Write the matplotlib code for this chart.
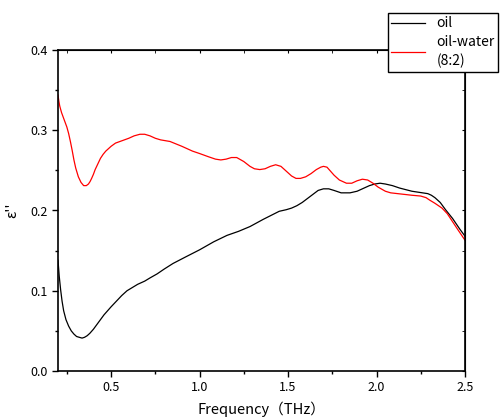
import numpy as np
import matplotlib.pyplot as plt
from matplotlib.ticker import MultipleLocator

plt.rcParams['font.family'] = ['Noto Sans CJK JP', 'DejaVu Sans']

# oil
freq_oil = [0.2, 0.207, 0.215, 0.223, 0.232, 0.245, 0.26, 0.275, 0.29, 0.305, 0.32, 0.336, 0.35,
            0.365, 0.38, 0.4, 0.42, 0.44, 0.46, 0.48, 0.5, 0.53, 0.56, 0.59, 0.62, 0.65, 0.69,
            0.72, 0.76, 0.8, 0.85, 0.92, 1.0, 1.08, 1.155, 1.22, 1.285, 1.36, 1.45, 1.49, 1.52,
            1.55, 1.58, 1.61, 1.64, 1.67, 1.70, 1.73, 1.76, 1.80, 1.85, 1.89, 1.92, 1.96, 1.99,
            2.02, 2.05, 2.09, 2.13, 2.2, 2.26, 2.29, 2.31, 2.33, 2.36, 2.39, 2.43, 2.47, 2.5]
eps_oil = [0.138, 0.118, 0.101, 0.087, 0.075, 0.064, 0.056, 0.050, 0.046, 0.043, 0.042, 0.041,
           0.042, 0.044, 0.047, 0.052, 0.058, 0.064, 0.070, 0.075, 0.080, 0.087, 0.094, 0.100,
           0.104, 0.108, 0.112, 0.116, 0.121, 0.127, 0.134, 0.142, 0.151, 0.161, 0.169, 0.174,
           0.180, 0.189, 0.199, 0.201, 0.203, 0.206, 0.210, 0.215, 0.220, 0.225, 0.227, 0.227,
           0.225, 0.222, 0.222, 0.224, 0.227, 0.231, 0.233, 0.234, 0.233, 0.231, 0.228, 0.224,
           0.222, 0.221, 0.219, 0.216, 0.210, 0.201, 0.190, 0.177, 0.168]

# oil-water (8:2)
freq_ow = [0.2, 0.205, 0.21, 0.22, 0.23, 0.24, 0.25, 0.26, 0.27, 0.28, 0.29, 0.3, 0.315, 0.33,
           0.345, 0.36, 0.372, 0.381, 0.39, 0.4, 0.41, 0.425, 0.44, 0.455, 0.47, 0.485, 0.5,
           0.525, 0.55, 0.575, 0.6, 0.63, 0.663, 0.69, 0.72, 0.75, 0.78, 0.833, 0.9, 0.96, 1.0,
           1.05, 1.09, 1.12, 1.15, 1.18, 1.21, 1.25, 1.285, 1.31, 1.34, 1.37, 1.40, 1.43, 1.46,
           1.49, 1.52, 1.545, 1.57, 1.60, 1.63, 1.66, 1.685, 1.70, 1.72, 1.74, 1.76, 1.79, 1.83,
           1.86, 1.89, 1.92, 1.95, 1.98, 2.01, 2.05, 2.08, 2.12, 2.16, 2.2, 2.25, 2.28, 2.3,
           2.33, 2.37, 2.4, 2.43, 2.46, 2.5]
eps_ow = [0.344, 0.336, 0.330, 0.322, 0.316, 0.310, 0.304, 0.296, 0.286, 0.275, 0.263, 0.253,
          0.242, 0.235, 0.231, 0.231, 0.233, 0.236, 0.240, 0.245, 0.251, 0.258, 0.265, 0.270,
          0.274, 0.277, 0.280, 0.284, 0.286, 0.288, 0.290, 0.293, 0.295, 0.295, 0.293, 0.290,
          0.288, 0.286, 0.280, 0.274, 0.271, 0.267, 0.264, 0.263, 0.264, 0.266, 0.266, 0.261,
          0.255, 0.252, 0.251, 0.252, 0.255, 0.257, 0.255, 0.249, 0.243, 0.240, 0.240, 0.242,
          0.246, 0.251, 0.254, 0.255, 0.254, 0.249, 0.244, 0.238, 0.234, 0.234, 0.237, 0.239,
          0.238, 0.234, 0.229, 0.224, 0.222, 0.221, 0.220, 0.219, 0.218, 0.216, 0.213, 0.209,
          0.203, 0.196, 0.186, 0.176, 0.163]

fig = plt.figure(figsize=(5.01, 4.19), dpi=100)
ax = fig.add_axes([58/501, 48/419, 407/501, 321/419])

ax.plot(freq_oil, eps_oil, color='black', lw=0.9, label='oil')
ax.plot(freq_ow, eps_ow, color='red', lw=0.9, label='oil-water\n(8:2)')

ax.set_xlim(0.2, 2.5)
ax.set_ylim(0, 0.4)
ax.xaxis.set_major_locator(MultipleLocator(0.5))
ax.xaxis.set_minor_locator(MultipleLocator(0.25))
ax.yaxis.set_major_locator(MultipleLocator(0.1))
ax.yaxis.set_minor_locator(MultipleLocator(0.05))
ax.xaxis.set_major_formatter(plt.FormatStrFormatter('%.1f'))
ax.yaxis.set_major_formatter(plt.FormatStrFormatter('%.1f'))
ax.tick_params(which='major', direction='out', length=4, width=1, labelsize=9)
ax.tick_params(which='minor', direction='out', length=2.5, width=1)
for s in ax.spines.values():
    s.set_linewidth(1.2)

# mirrored ticks on top and right, pointing in
top = ax.secondary_xaxis('top')
top.xaxis.set_major_locator(MultipleLocator(0.5))
top.xaxis.set_minor_locator(MultipleLocator(0.25))
top.tick_params(which='both', direction='in', length=2.5, labeltop=False)
right = ax.secondary_yaxis('right')
right.yaxis.set_major_locator(MultipleLocator(0.1))
right.yaxis.set_minor_locator(MultipleLocator(0.05))
right.tick_params(which='both', direction='in', length=2.5, labelright=False)

ax.set_xlabel('Frequency（THz）', fontsize=10.5, labelpad=5)
ax.set_ylabel("ε''", fontsize=10.5, labelpad=8)

leg = fig.legend(loc='upper left', bbox_to_anchor=(388/501, 1 - 13/419), fontsize=10,
                 frameon=True, fancybox=False, edgecolor='black', framealpha=1,
                 handlelength=2.4, handletextpad=0.85, borderaxespad=0, borderpad=0.25,
                 labelspacing=0.3)
leg.get_frame().set_linewidth(1.0)
for t in leg.get_texts():
    t.set_linespacing(1.45)

fig.savefig('out.png', dpi=100)
